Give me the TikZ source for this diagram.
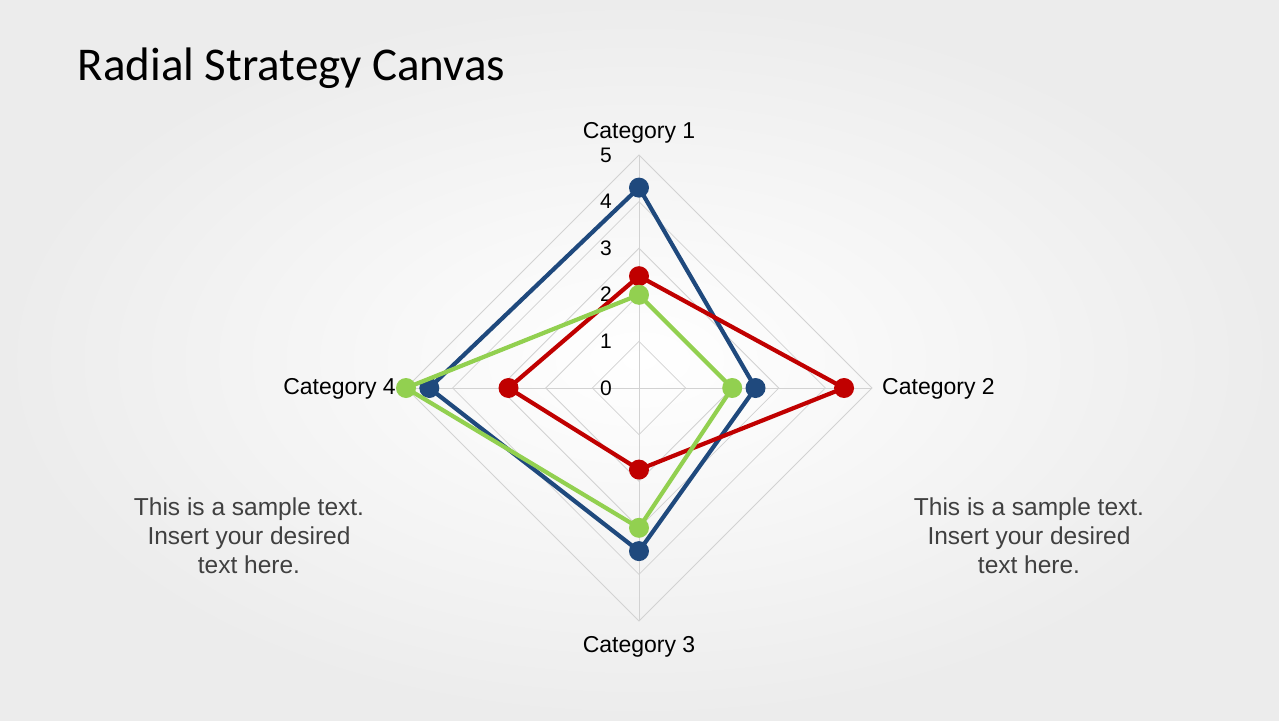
\documentclass[tikz,border=0pt]{standalone}
\usepackage{fontspec}
\setmainfont{Liberation Sans}
\newfontfamily\titlefont{Carlito}
\definecolor{sblue}{RGB}{31,73,125}
\definecolor{sred}{RGB}{192,0,0}
\definecolor{sgreen}{RGB}{146,208,80}
\definecolor{gridc}{RGB}{210,210,210}
\definecolor{bgc}{RGB}{236,236,236}
\definecolor{txtc}{RGB}{64,64,64}
\begin{document}
\begin{tikzpicture}[x=1pt,y=-1pt,
  ser/.style={line width=4.2pt,line join=round},
  dotm/.style={circle,inner sep=0pt,minimum size=20pt},
  cat/.style={font=\fontsize{23}{26}\selectfont,inner sep=1pt},
  num/.style={font=\fontsize{21}{24}\selectfont,inner sep=0pt},
  side/.style={font=\fontsize{24.5}{29}\selectfont,text=txtc,align=center}]
\useasboundingbox (0,0) rectangle (1279,720);
\shade[inner color=white,outer color=bgc] (0,0) rectangle (1279,720);
\coordinate (c) at (639,388);
% grid
\foreach \r in {46.6,93.2,139.8,186.4,233} {
  \draw[gridc,line width=0.8pt] (639,388-\r) -- (639+\r,388) -- (639,388+\r) -- (639-\r,388) -- cycle;
}
\draw[gridc,line width=0.8pt] (639,155) -- (639,621) (406,388) -- (872,388);
% numbers
\foreach \v/\y in {0/388,1/341,2/294,3/248,4/201,5/155} \node[num] at (606,\y) {\v};
% categories
\node[cat,anchor=south] (c1) at (639,144) {Category 1};
\node[cat,anchor=west] (c2) at (881,389) {Category 2};
\node[cat,anchor=north] (c3) at (639,635) {Category 3};
\node[cat,anchor=east] (c4) at (397,389) {Category 4};
% series
\foreach \col/\a/\b/\cc/\d in {sblue/4.3/2.5/3.5/4.5, sred/2.4/4.4/1.75/2.8, sgreen/2.0/2.0/3.0/5.0} {
  \draw[ser,\col] (639,388-\a*46.6) -- (639+\b*46.6,388) -- (639,388+\cc*46.6) -- (639-\d*46.6,388) -- cycle;
  \foreach \p in {(639,388-\a*46.6),(639+\b*46.6,388),(639,388+\cc*46.6),(639-\d*46.6,388)}
    \node[dotm,fill=\col] at \p {};
}
\node[anchor=west,font=\titlefont\fontsize{47}{52}\selectfont] (t) at (74,68) {Radial Strategy Canvas};
\node[side] (l) at (249,536) {This is a sample text.\\Insert your desired\\text here.};
\node[side] (r) at (1029,536) {This is a sample text.\\Insert your desired\\text here.};
\end{tikzpicture}
\end{document}
